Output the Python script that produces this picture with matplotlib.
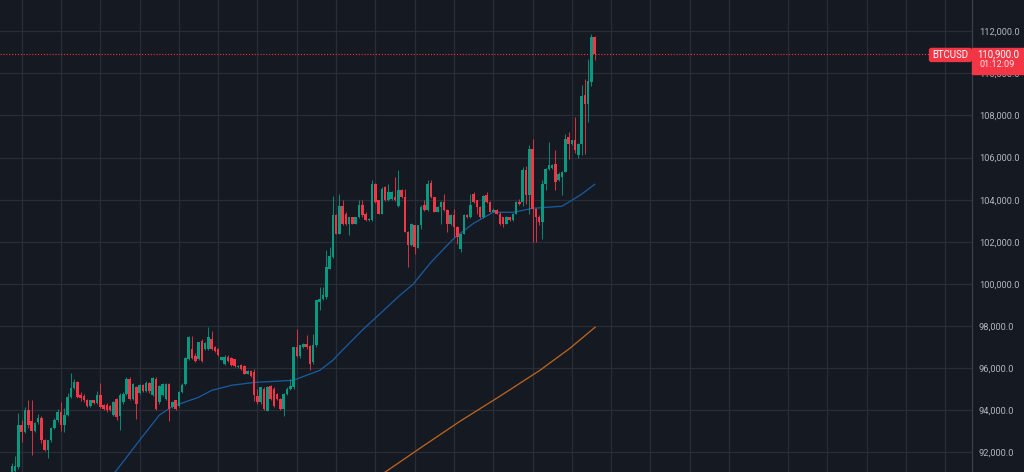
import numpy as np
import matplotlib
matplotlib.use("Agg")
import matplotlib.pyplot as plt
from matplotlib.patches import Rectangle, FancyBboxPatch
from matplotlib.transforms import IdentityTransform
from matplotlib.ticker import FuncFormatter

plt.rcParams['font.family'] = ['Roboto', 'DejaVu Sans']

# ---------------- data ----------------
symbol = "BTCUSD"
last_price = 110900.0
countdown = "01:12:09"
first_index = -3   # index of first candle (candle 0 sits on the first time gridline)

opens = [
    90900, 91100, 91300, 93300, 92970, 94030, 93500, 93000, 93450, 93640,
    92570, 92130, 92570, 93160, 93520, 93915, 93280, 93755, 94630, 95070,
    95340, 94700, 94650, 94500, 94180, 94470, 94320, 94710, 94230, 94260,
    94200, 93750, 94550, 93700, 94400, 94780, 95500, 94550, 95100, 94800,
    95200, 94900, 95300, 94700, 95500, 94380, 94700, 94540, 95250, 94140,
    94460, 94220, 94860, 95240, 96430, 96900, 96590, 96430, 97300, 96900,
    96900, 97380, 96980, 96900, 96400, 96200, 96550, 96500, 96430, 96030,
    96140, 96110, 95720, 95870, 95830, 94690, 94370, 95000, 93970, 95160,
    95000, 94770, 94530, 94050, 94770, 95000, 95080, 96980, 96590, 97000,
    97160, 97060, 96290, 97080, 99140, 99300, 99380, 100720, 101280, 103260,
    102390, 103690, 103340, 102860, 103180, 102860, 103180, 103730, 103340, 103020,
    103020, 104760, 103970, 103340, 104600, 103970, 104050, 104130, 103700, 104450,
    104130, 102470, 101830, 102780, 101720, 102780, 103730, 103500, 104800, 104130,
    103420, 103650, 103890, 103500, 102860, 103260, 102700, 101670, 102390, 103260,
    103180, 104290, 103990, 103650, 103180, 104210, 103890, 103420, 103530, 103340,
    103180, 102860, 103180, 103020, 103340, 103890, 103890, 105400, 104200, 106420,
    103570, 103180, 102940, 104760, 105470, 105500, 105710, 104920, 105080, 105320,
    106980, 106660, 106820, 106110, 106660, 108960, 108560, 109600, 111730,
]
closes = [
    91350, 91350, 93280, 92970, 94000, 93290, 93000, 93400, 93650, 92570,
    92130, 92570, 93160, 93520, 93915, 93280, 93755, 94630, 95070, 95340,
    94630, 94560, 94500, 94180, 94470, 94320, 94710, 94150, 94070, 93990,
    94000, 94390, 93680, 94700, 94780, 95500, 94550, 95250, 94300, 95200,
    94900, 95300, 94900, 95520, 94060, 95170, 95250, 95250, 94060, 94380,
    94060, 94860, 95210, 96500, 97460, 96500, 96350, 97220, 96350, 97200,
    97460, 96900, 96820, 96620, 96510, 96550, 96350, 96140, 96110, 96110,
    95950, 95720, 95870, 95640, 94720, 94370, 95080, 94050, 95080, 94530,
    94210, 94530, 94050, 94770, 95000, 95160, 96980, 96590, 97080, 97160,
    96980, 96210, 97080, 99220, 99300, 99460, 100800, 101310, 103260, 102390,
    103690, 102860, 102830, 103180, 102860, 103180, 103730, 103250, 103020, 103100,
    104760, 103890, 103340, 104530, 104000, 104370, 104370, 103970, 104450, 104130,
    102470, 101830, 102860, 101750, 102780, 103650, 103500, 104760, 104130, 103420,
    103650, 103890, 103500, 102860, 103260, 102700, 102230, 102390, 103260, 103180,
    103730, 103890, 103650, 103180, 104160, 103890, 103420, 103530, 103340, 102860,
    102860, 103180, 103020, 103340, 103890, 103810, 105400, 104200, 106420, 103570,
    103180, 102940, 104760, 105470, 105630, 105630, 104840, 105240, 105320, 106900,
    106660, 106820, 106350, 106660, 108910, 108560, 109640, 111730, 110900,
]
highs = [
    91500, 91800, 93850, 93520, 94160, 94500, 94500, 93450, 93800, 93700,
    92650, 92600, 93200, 93650, 94050, 94390, 94100, 94800, 95770, 95500,
    95400, 94850, 94750, 94550, 94500, 94500, 94900, 95300, 94300, 94350,
    94250, 94450, 94600, 94800, 94850, 95570, 95600, 95300, 95150, 95250,
    95250, 95400, 95350, 95600, 95600, 95200, 95300, 95300, 95300, 94450,
    94500, 94900, 95300, 96550, 97540, 97540, 96700, 97250, 97380, 97250,
    97930, 97770, 97060, 96950, 96550, 96600, 96600, 96520, 96450, 96150,
    96180, 96150, 95900, 95900, 95950, 95000, 95100, 95080, 95160, 95200,
    95100, 94800, 94600, 94800, 95100, 95500, 97000, 97850, 97100, 97200,
    97560, 97100, 97620, 99250, 99850, 99850, 101590, 101750, 104160, 103300,
    104290, 103970, 103400, 103200, 103200, 103200, 104000, 103970, 103400, 103150,
    104920, 104800, 104000, 104600, 104650, 104760, 104400, 105080, 105400, 104500,
    104530, 102500, 102900, 102800, 102800, 103730, 103970, 104920, 104920, 104150,
    103700, 103950, 104290, 103550, 103300, 103570, 102750, 102400, 103300, 103300,
    104290, 104370, 104000, 103700, 104200, 104370, 103950, 103600, 103580, 103400,
    103200, 103220, 103200, 103380, 103950, 104050, 105550, 105600, 106580, 106900,
    103600, 103250, 104920, 105500, 106740, 105700, 106345, 105300, 105350, 107140,
    107220, 106850, 107930, 106700, 109430, 109750, 110700, 111860, 111760,
]
lows = [
    90800, 91000, 91200, 92500, 92900, 93130, 91850, 92950, 93350, 92450,
    92050, 91745, 92500, 93100, 93450, 93000, 92950, 93700, 94600, 95000,
    94600, 94450, 94400, 94150, 94150, 94300, 94280, 94100, 94000, 93900,
    93950, 93700, 93520, 93080, 94300, 94700, 94500, 94500, 93600, 94750,
    94850, 94850, 94800, 94650, 94000, 94300, 94650, 94500, 93500, 94100,
    94000, 94150, 94800, 95200, 96400, 96450, 96300, 96400, 96300, 96850,
    96850, 96850, 96760, 96580, 96380, 96150, 96300, 96100, 96050, 96000,
    95900, 95700, 95700, 95600, 94450, 94290, 94290, 94000, 93970, 94500,
    94150, 94500, 94000, 93730, 94700, 94950, 95000, 96550, 96500, 96950,
    96900, 95890, 96200, 97000, 98740, 99250, 99300, 100700, 101250, 102380,
    102380, 102780, 102800, 102310, 102850, 102850, 103150, 103200, 103000, 103000,
    103000, 103850, 103300, 103300, 103950, 103950, 104000, 103950, 103650, 104100,
    102450, 100800, 101800, 101440, 101700, 102620, 103450, 103450, 104100, 103400,
    103400, 102860, 103450, 102460, 102800, 102230, 101910, 101510, 102350, 103150,
    103150, 103850, 103340, 103150, 103150, 103850, 103400, 103400, 103300, 102800,
    102700, 102850, 103000, 103000, 103300, 103750, 103700, 103800, 103300, 101990,
    101990, 102800, 102150, 104440, 105400, 105450, 104440, 104900, 104210, 105300,
    105950, 106600, 106200, 106000, 106110, 106190, 107690, 109400, 110620,
]

# moving averages (candle index, price)
ma_fast_idx = [24, 28.5, 36, 42, 46, 54, 58, 64, 71, 83, 87, 91, 95, 97, 104,
               115.5, 119.5, 125, 132, 138, 144, 150, 156, 165, 170.5, 175]
ma_fast_val = [90150, 91050, 92570, 93760, 94180, 94610, 94940, 95180, 95320, 95420,
               95660, 95890, 96370, 96700, 97800, 99460, 99980, 101030, 102170, 102880,
               103400, 103400, 103590, 103690, 104210, 104730]
ma_slow_idx = [107, 110.9, 121.6, 133.8, 146, 158.2, 167.4, 175.1]
ma_slow_val = [90640, 91050, 92190, 93470, 94660, 95890, 96940, 97940]

price_ticks = list(range(92000, 112001, 2000))

# ---------------- style / layout ----------------
BG = "#151922"
GRID = "#292d38"
UP = "#089981"
DOWN = "#f23645"
TXT = "#b2b5be"
time_grid = [0, 12, 24, 36, 48, 60, 72, 84, 96, 108, 120, 132, 144, 156, 168, 180,
             192, 204, 216, 234, 246, 258, 270, 282]

W, H = 1024, 472
fig = plt.figure(figsize=(W / 100, H / 100), dpi=100, facecolor=BG)
ax = fig.add_axes([0, 0, 972 / W, 1])
ax.set_facecolor(BG)

o = np.array(opens, float)
h = np.array(highs, float)
l = np.array(lows, float)
c = np.array(closes, float)
x = np.arange(first_index, first_index + len(o))
cols = np.where(c >= o, UP, DOWN)

ax.vlines(x, l, h, colors=cols, lw=0.75, alpha=0.85, zorder=3)
ax.bar(x, np.maximum(np.abs(c - o), 30), bottom=np.minimum(o, c), width=0.78,
       color=cols, linewidth=0, zorder=4)

ax.plot(ma_fast_idx, ma_fast_val, color="#185a9d", lw=0.95, zorder=2)
ax.plot(ma_slow_idx, ma_slow_val, color="#b9631f", lw=0.95, zorder=2)

ax.axhline(last_price, color=DOWN, lw=0.8, ls=(0, (1, 1.6)), zorder=5)

ax.set_xlim(-6.63, 290.2)
ax.set_ylim(91063, 113487)

for gx in time_grid:
    ax.axvline(gx, color=GRID, lw=0.9, zorder=0)
ax.set_yticks(price_ticks)
ax.yaxis.grid(True, color=GRID, lw=0.9, zorder=0)
ax.set_axisbelow(True)
ax.set_xticks([])
ax.yaxis.tick_right()
ax.yaxis.set_major_formatter(FuncFormatter(lambda v, p: f"{v:,.1f}"))
ax.tick_params(axis='y', length=0, pad=5, labelsize=6.7, labelcolor=TXT)
for s in ("top", "left", "bottom"):
    ax.spines[s].set_visible(False)
ax.spines["right"].set_color("#3c404b")
ax.spines["right"].set_linewidth(0.9)

# price labels (pixel coordinates)
fig.canvas.draw()
yp = ax.transData.transform((0, last_price))[1]
ident = IdentityTransform()
box = Rectangle((972, yp - 20), 52, 26, transform=ident, color=DOWN, zorder=5)
fig.add_artist(box)
fig.text(998, yp + 0.5, f"{last_price:,.1f}", transform=ident, color="white",
         fontsize=6.9, ha="center", va="center", zorder=6)
fig.text(997.5, yp - 10, countdown, transform=ident, color="#ffe0e3",
         fontsize=6.6, ha="center", va="center", zorder=6)
tag = FancyBboxPatch((929.5, yp - 7), 42, 13, boxstyle="round,pad=0,rounding_size=2",
                     transform=ident, color=DOWN, zorder=5)
fig.add_artist(tag)
fig.text(950.5, yp - 0.5, symbol, transform=ident, color="white",
         fontsize=6.9, ha="center", va="center", zorder=6)

fig.savefig("out.png", dpi=100, facecolor=BG)
